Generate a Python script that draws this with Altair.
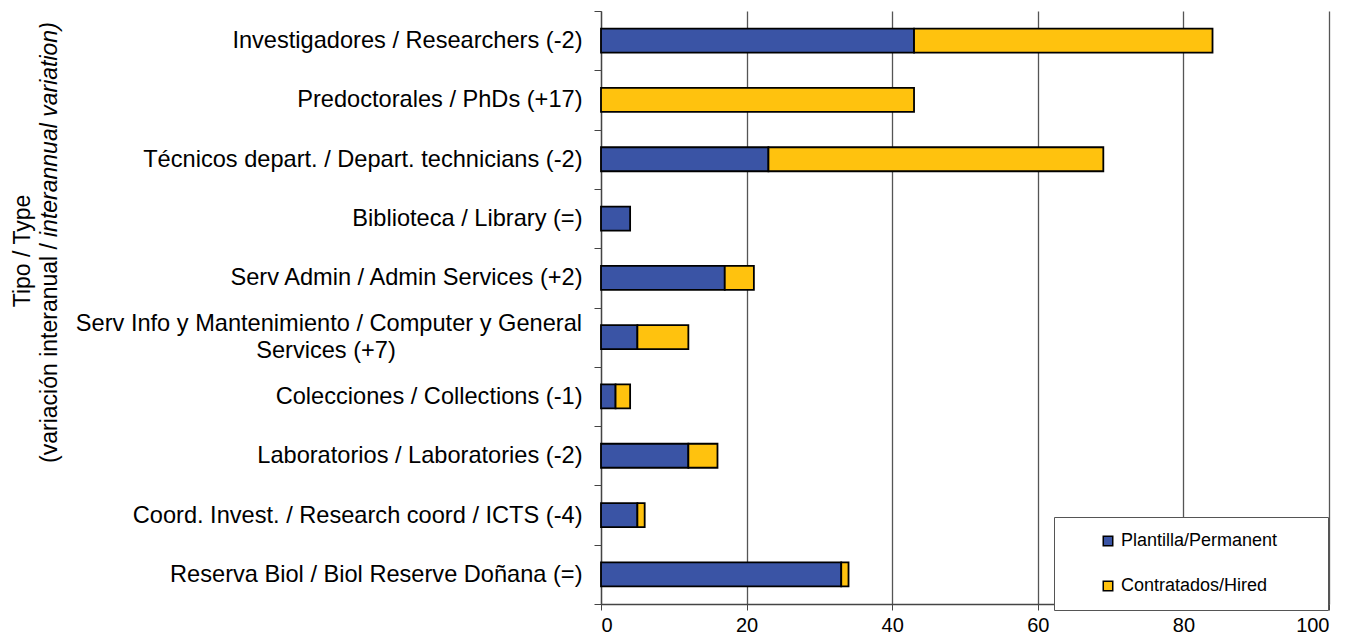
import altair as alt
import pandas as pd

NBSP = "\u00a0"
ZWSP = "\u200b"

categories = [
    "Investigadores / Researchers (-2)",
    "Predoctorales / PhDs (+17)",
    "Técnicos depart. / Depart. technicians (-2)",
    "Biblioteca / Library (=)",
    "Serv Admin / Admin Services (+2)",
    "Serv Info y Mantenimiento / Computer y General|Services (+7)",
    "Colecciones / Collections (-1)",
    "Laboratorios / Laboratories (-2)",
    "Coord. Invest. / Research coord / ICTS (-4)",
    "Reserva Biol / Biol Reserve Doñana (=)",
]
plantilla = [43, 0, 23, 4, 17, 5, 2, 12, 5, 33]
contratados = [41, 43, 46, 0, 4, 7, 2, 4, 1, 1]
series_names = ["Plantilla/Permanent", "Contratados/Hired"]
series_colors = ["#3A54A5", "#FFC20E"]
x_ticks = [0, 20, 40, 60, 80, 100]
y_title_line1 = ["Tipo / Type"]
y_title_line2_normal = ["(variación interanual /"]
y_title_line2_italic = ["interannual variation)"]

rows = []
for cat, p, c in zip(categories, plantilla, contratados):
    if p > 0:
        rows.append({"tipo": cat, "serie": series_names[0], "valor": p, "orden": 0})
    if c > 0:
        rows.append({"tipo": cat, "serie": series_names[1], "valor": c, "orden": 1})
df = pd.DataFrame(rows)

# the one category label that wraps onto two lines (first line right-aligned,
# second line centred under it, as in the original)
wrapped_cat = [c for c in categories if "|" in c][0]
wrapped_lines = wrapped_cat.split("|")
df_wrap1 = pd.DataFrame({"tipo": [wrapped_cat], "t": [wrapped_lines[0]]})
df_wrap2 = pd.DataFrame({"tipo": [wrapped_cat], "t": [wrapped_lines[1]]})

FONT = "Liberation Sans"
LABEL_SIZE = 23.6
legend_pad = NBSP * 7 + ZWSP
y_enc = alt.Y("tipo:N", sort=categories, scale=alt.Scale(paddingInner=0, paddingOuter=0))

bars = (
    alt.Chart(df)
    .mark_bar(size=24, stroke="#000000", strokeWidth=1.8)
    .encode(
        x=alt.X(
            "valor:Q",
            stack="zero",
            scale=alt.Scale(domain=[0, 100], nice=False),
            axis=alt.Axis(
                values=x_ticks,
                title=None,
                grid=True,
                gridColor="#555555",
                gridWidth=1.3,
                labelFontSize=20,
                labelFont=FONT,
                labelColor="#000000",
                labelPadding=5,
                tickSize=6,
                tickColor="#444444",
                domainColor="#444444",
                domainWidth=1.3,
            ),
        ),
        y=alt.Y(
            "tipo:N",
            sort=categories,
            scale=alt.Scale(paddingInner=0, paddingOuter=0),
            axis=alt.Axis(
                title=None,
                labelFont=FONT,
                labelFontSize=LABEL_SIZE,
                labelColor="#000000",
                labelLimit=700,
                labelPadding=12,
                labelExpr="indexof(datum.label, '|') >= 0 ? '' : datum.label",
                tickBand="extent",
                tickSize=7,
                tickColor="#444444",
                domainColor="#444444",
                domainWidth=1.3,
                grid=False,
            ),
        ),
        color=alt.Color(
            "serie:N",
            scale=alt.Scale(domain=series_names, range=series_colors),
            legend=alt.Legend(
                title=None,
                orient="none",
                legendX=453,
                legendY=506,
                direction="vertical",
                fillColor="#ffffff",
                strokeColor="#555555",
                padding=15,
                symbolType="square",
                symbolSize=90,
                symbolStrokeColor="#000000",
                symbolStrokeWidth=1.5,
                symbolOffset=30,
                labelFont=FONT,
                labelFontSize=18,
                labelColor="#000000",
                labelLimit=400,
                labelOffset=4,
                rowPadding=27,
                labelExpr="datum.label + '" + legend_pad + "'",
            ),
        ),
        order=alt.Order("orden:Q"),
    )
)

wrap1 = (
    alt.Chart(df_wrap1)
    .mark_text(align="right", baseline="middle", font=FONT, fontSize=LABEL_SIZE,
               color="#000000", dy=-13)
    .encode(y=y_enc, x=alt.value(-19), text="t:N")
)
wrap2 = (
    alt.Chart(df_wrap2)
    .mark_text(align="center", baseline="middle", font=FONT, fontSize=LABEL_SIZE,
               color="#000000", dy=14)
    .encode(y=y_enc, x=alt.value(-275), text="t:N")
)

title1 = (
    alt.Chart(pd.DataFrame({"t": y_title_line1}))
    .mark_text(angle=270, align="center", baseline="alphabetic", font=FONT,
               fontSize=23, color="#000000")
    .encode(text="t:N", x=alt.value(-571), y=alt.value(240))
)
title2a = (
    alt.Chart(pd.DataFrame({"t": y_title_line2_normal}))
    .mark_text(angle=270, align="right", baseline="alphabetic", font=FONT,
               fontSize=23, color="#000000")
    .encode(text="t:N", x=alt.value(-544), y=alt.value(232))
)
title2b = (
    alt.Chart(pd.DataFrame({"t": y_title_line2_italic}))
    .mark_text(angle=270, align="left", baseline="alphabetic", font=FONT,
               fontSize=23, fontStyle="italic", color="#000000")
    .encode(text="t:N", x=alt.value(-544), y=alt.value(226))
)

chart = (
    alt.layer(bars, wrap1, wrap2, title1, title2a, title2b)
    .properties(
        width=728,
        height=593,
        padding={"left": 593, "top": 3, "right": 14, "bottom": 35},
        autosize=alt.AutoSizeParams(type="none"),
    )
    .configure_view(stroke=None)
)

chart.save("out.html", embed_options={"renderer": "svg", "actions": False})
